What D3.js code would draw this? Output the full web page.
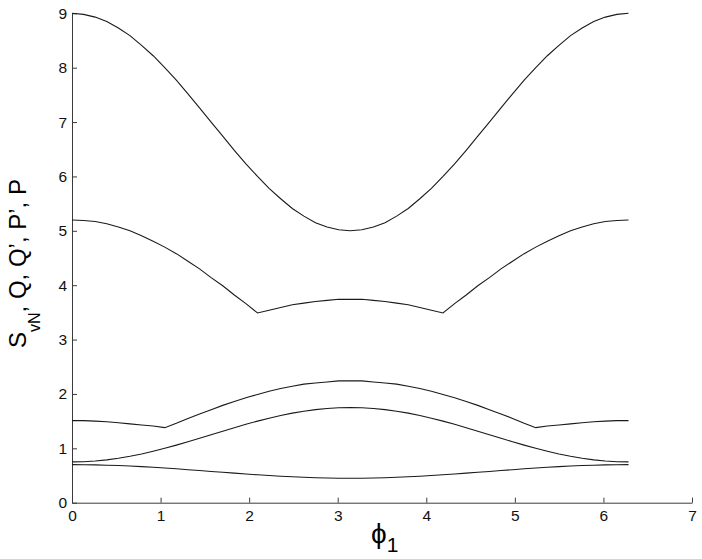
<!DOCTYPE html>
<html>
<head>
<meta charset="utf-8">
<script src="https://cdn.jsdelivr.net/npm/d3@7"></script>
<style>
  html, body { margin: 0; padding: 0; background: #fff; }
  svg { display: block; font-family: "Liberation Sans", Arial, Helvetica, sans-serif; }
</style>
</head>
<body>
<svg id="chart" width="702" height="559"></svg>
<script>
// phi grid: k*pi/24, k = 0..48
const phi = d3.range(49).map(k => k * Math.PI / 24);

const xTicks = [0, 1, 2, 3, 4, 5, 6, 7];
const yTicks = [0, 1, 2, 3, 4, 5, 6, 7, 8, 9];

const seriesA = [9.00, 8.98, 8.93, 8.85, 8.73, 8.59, 8.41, 8.22, 8.00, 7.77, 7.52, 7.26, 7.00,
  6.74, 6.48, 6.23, 6.00, 5.78, 5.59, 5.41, 5.27, 5.15, 5.07, 5.02, 5.00,
  5.02, 5.07, 5.15, 5.27, 5.41, 5.59, 5.78, 6.00, 6.23, 6.48, 6.74, 7.00,
  7.26, 7.52, 7.77, 8.00, 8.22, 8.41, 8.59, 8.73, 8.85, 8.93, 8.98, 9.00];

const seriesB = [5.20, 5.19, 5.17, 5.13, 5.07, 5.00, 4.91, 4.81, 4.70, 4.58, 4.44, 4.30, 4.14,
  3.99, 3.82, 3.66, 3.49, 3.54, 3.59, 3.64, 3.67, 3.70, 3.72, 3.74, 3.74,
  3.74, 3.72, 3.70, 3.67, 3.64, 3.59, 3.54, 3.49, 3.66, 3.82, 3.99, 4.14,
  4.30, 4.44, 4.58, 4.70, 4.81, 4.91, 5.00, 5.07, 5.13, 5.17, 5.19, 5.20];

const seriesC = [1.51, 1.51, 1.50, 1.49, 1.47, 1.45, 1.43, 1.41, 1.38, 1.46, 1.55, 1.63, 1.71,
  1.79, 1.86, 1.93, 1.99, 2.05, 2.10, 2.14, 2.18, 2.20, 2.22, 2.24, 2.24,
  2.24, 2.22, 2.20, 2.18, 2.14, 2.10, 2.05, 1.99, 1.93, 1.86, 1.79, 1.71,
  1.63, 1.55, 1.46, 1.38, 1.41, 1.43, 1.45, 1.47, 1.49, 1.50, 1.51, 1.51];

const seriesD = [0.750, 0.754, 0.767, 0.788, 0.817, 0.853, 0.896, 0.946, 1.000, 1.059, 1.121, 1.185, 1.250,
  1.315, 1.379, 1.441, 1.500, 1.554, 1.604, 1.647, 1.683, 1.712, 1.733, 1.746, 1.750,
  1.746, 1.733, 1.712, 1.683, 1.647, 1.604, 1.554, 1.500, 1.441, 1.379, 1.315, 1.250,
  1.185, 1.121, 1.059, 1.000, 0.946, 0.896, 0.853, 0.817, 0.788, 0.767, 0.754, 0.750];

const seriesE = [0.700, 0.699, 0.696, 0.690, 0.683, 0.674, 0.663, 0.651, 0.638, 0.623, 0.607, 0.591, 0.575,
  0.559, 0.543, 0.527, 0.513, 0.499, 0.487, 0.476, 0.467, 0.459, 0.454, 0.451, 0.450,
  0.451, 0.454, 0.459, 0.467, 0.476, 0.487, 0.499, 0.513, 0.527, 0.543, 0.559, 0.575,
  0.591, 0.607, 0.623, 0.638, 0.651, 0.663, 0.674, 0.683, 0.690, 0.696, 0.699, 0.700];

const allSeries = [seriesA, seriesB, seriesC, seriesD, seriesE];

const svg = d3.select("#chart");
const x = d3.scaleLinear().domain([0, 7]).range([72, 692]);
const y = d3.scaleLinear().domain([0, 9]).range([502.7, 13.3]);

const axisColor = "#3a3a3a";

// x axis
const gx = svg.append("g").attr("transform", `translate(0,${y(0)})`)
  .call(d3.axisBottom(x).tickValues(xTicks).tickFormat(d3.format("d")).tickSizeInner(-5).tickSizeOuter(0).tickPadding(7));
gx.select(".domain").attr("stroke", axisColor);
gx.selectAll(".tick line").attr("stroke", axisColor);
gx.selectAll(".tick text").attr("font-size", 15.5).attr("fill", "#111")
  .attr("font-family", "Liberation Sans, Arial, sans-serif");

// y axis
const gy = svg.append("g").attr("transform", `translate(${x(0)},0)`)
  .call(d3.axisLeft(y).tickValues(yTicks).tickFormat(d3.format("d")).tickSizeInner(-5).tickSizeOuter(0).tickPadding(5));
gy.select(".domain").attr("stroke", axisColor);
gy.selectAll(".tick line").attr("stroke", axisColor);
gy.selectAll(".tick text").attr("font-size", 15.5).attr("fill", "#111")
  .attr("font-family", "Liberation Sans, Arial, sans-serif");

// curves
const line = d3.line().x((d, i) => x(phi[i])).y(d => y(d)).curve(d3.curveLinear);
svg.append("g").selectAll("path").data(allSeries).join("path")
  .attr("d", line)
  .attr("fill", "none")
  .attr("stroke", "#1a1a1a")
  .attr("stroke-width", 1.1);

// x label
const xl = svg.append("text")
  .attr("x", 371).attr("y", 543)
  .attr("text-anchor", "start")
  .attr("font-size", 28)
  .attr("fill", "#000");
xl.append("tspan").text("\u03D5");
xl.append("tspan").attr("font-size", 21).attr("dy", 9).text("1");

// y label
const yl = svg.append("text")
  .attr("transform", `translate(25.5,348) rotate(-90)`)
  .attr("text-anchor", "start")
  .attr("font-size", 24)
  .attr("fill", "#000");
yl.append("tspan").text("S");
yl.append("tspan").attr("font-size", 16).attr("dy", 14).text("vN");
yl.append("tspan").attr("dy", -14).text(", Q, Q\u2019, P\u2019, P");
</script>
</body>
</html>
